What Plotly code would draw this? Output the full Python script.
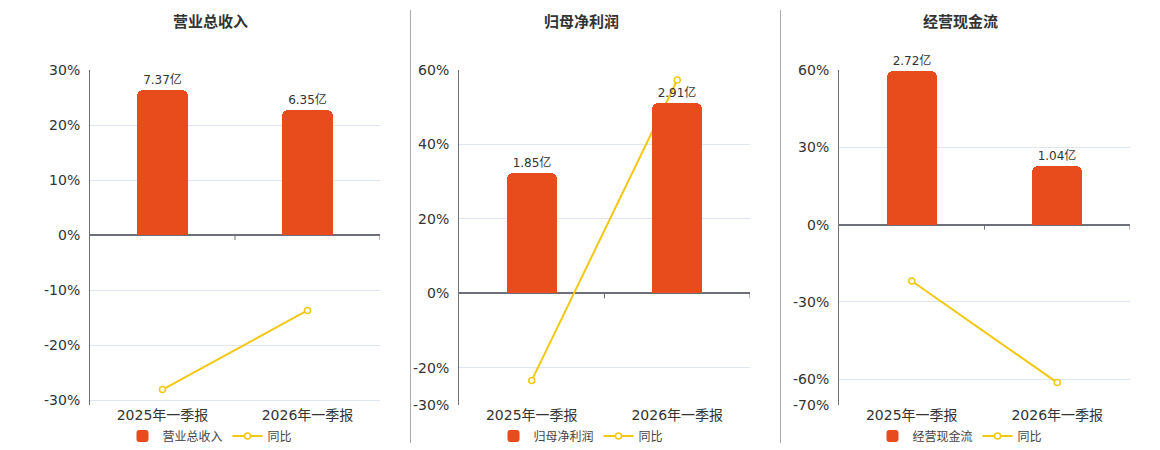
import plotly.graph_objects as go

W, H = 1160, 450

categories = ["2025年一季报", "2026年一季报"]

titles = ["营业总收入", "归母净利润", "经营现金流"]
bar_values = [[7.37, 6.35], [1.85, 2.91], [2.72, 1.04]]   # 亿
yoy_values = [[-28.1, -13.7], [-23.4, 57.3], [-21.9, -61.3]]  # %

pct_ranges = [[-30.9, 30], [-30, 60], [-70, 60]]
pct_ticks = [[-30, -20, -10, 0, 10, 20, 30],
             [-30, -20, 0, 20, 40, 60],
             [-70, -60, -30, 0, 30, 60]]
bar_axis_max = [8.39, 3.42, 2.74]

BAR_COLOR = "#E84B1C"
LINE_COLOR = "#F2C811"
TEXT = "#333333"
AXIS = "#6E7079"
GRID = "#E0E6F1"
FONT = "DejaVu Sans, Noto Sans CJK SC, sans-serif"

plot_x = [(90, 380), (459, 750), (839, 1130)]
plot_y = (70, 405)
centers = [210, 581, 960]

fig = go.Figure()
layout = dict(
    width=W, height=H, margin=dict(l=0, r=0, t=0, b=0, autoexpand=False),
    paper_bgcolor="white", plot_bgcolor="white",
    font=dict(family=FONT, color=TEXT, size=12),
    showlegend=True,
)
shapes = []
annotations = []

ydom = [1 - plot_y[1] / H, 1 - plot_y[0] / H]

for i in range(3):
    n = i + 1
    xa = "x" if n == 1 else f"x{n}"
    ya = f"y{2*n-1}" if 2*n-1 > 1 else "y"
    yb = f"y{2*n}"
    xkey = "xaxis" if n == 1 else f"xaxis{n}"
    ya_key = "yaxis" if ya == "y" else f"yaxis{2*n-1}"
    yb_key = f"yaxis{2*n}"
    leg = "legend" if n == 1 else f"legend{n}"

    fig.add_trace(go.Bar(
        x=categories, y=bar_values[i], name=titles[i],
        xaxis=xa, yaxis=yb, legend=leg,
        marker=dict(color=BAR_COLOR, cornerradius=6, line=dict(width=0)),
        width=0.345,
        texttemplate="%{y}亿", textposition="outside", cliponaxis=False,
        textfont=dict(size=12, color=TEXT),
    ))
    fig.add_trace(go.Scatter(
        x=categories, y=yoy_values[i], name="同比",
        xaxis=xa, yaxis=ya, legend=leg, mode="lines+markers",
        line=dict(color=LINE_COLOR, width=2),
        marker=dict(symbol="circle", size=6, color="white",
                    line=dict(color=LINE_COLOR, width=1.5)),
        cliponaxis=False,
    ))

    x0, x1 = plot_x[i]
    layout[xkey] = dict(
        domain=[x0 / W, x1 / W], anchor=ya, range=[-0.5, 1.5],
        type="category", showgrid=False, showline=False, zeroline=False,
        ticks="", tickfont=dict(size=14, color=TEXT), fixedrange=True,
        automargin=False,
    )
    layout[ya_key] = dict(
        domain=ydom, anchor=xa, range=pct_ranges[i],
        tickvals=pct_ticks[i], ticktext=[f"{v}%" for v in pct_ticks[i]],
        showgrid=True, gridcolor=GRID, gridwidth=1,
        zeroline=True, zerolinecolor=AXIS, zerolinewidth=2,
        showline=True, linecolor=AXIS, linewidth=1,
        ticks="", tickfont=dict(size=14, color=TEXT), ticklabelstandoff=6,
        automargin=False,
    )
    lo, hi = pct_ranges[i]
    bm = bar_axis_max[i]
    layout[yb_key] = dict(
        overlaying=ya, anchor=xa, range=[lo / hi * bm, bm],
        showgrid=False, zeroline=False, showticklabels=False, showline=False,
        ticks="", automargin=False,
    )
    layout[leg] = dict(
        x=centers[i] / W, xanchor="center", y=1 - 436 / H, yanchor="middle",
        orientation="h", font=dict(size=12, color="#444444"),
        bgcolor="rgba(0,0,0,0)", itemwidth=30, tracegroupgap=0,
    )
    for b in (0.5, 1.5):
        shapes.append(dict(
            type="line", xref=xa, yref=ya, x0=b, x1=b, y0=0, y1=-5,
            ysizemode="pixel", yanchor=0,
            line=dict(color=AXIS, width=1),
        ))
    annotations.append(dict(
        text=f"<b>{titles[i]}</b>", x=centers[i] / W, y=1 - 22 / H,
        xref="paper", yref="paper", xanchor="center", yanchor="middle",
        showarrow=False, font=dict(size=15, color=TEXT),
    ))

for xd in (410.5, 780.5):
    shapes.append(dict(
        type="line", xref="paper", yref="paper",
        x0=xd / W, x1=xd / W, y0=1 - 443 / H, y1=1 - 10 / H,
        line=dict(color="#AAAAAA", width=1),
    ))

layout["shapes"] = shapes
layout["annotations"] = annotations
layout["bargap"] = 0
fig.update_layout(**layout)

fig.write_html("out.html",
               config={"displayModeBar": False},
               post_script="document.body.style.margin='0px';document.body.style.overflow='hidden';")
